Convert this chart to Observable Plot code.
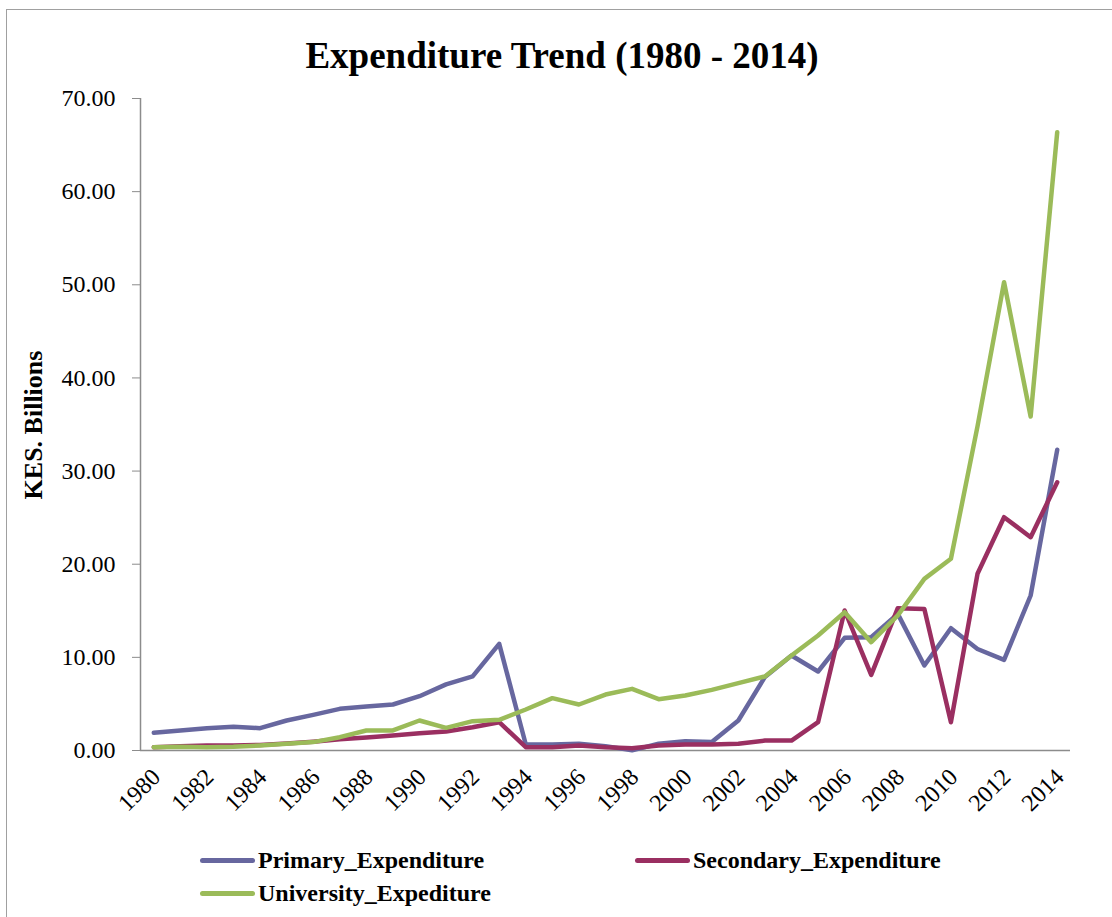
<!DOCTYPE html>
<html>
<head>
<meta charset="utf-8">
<script src="https://cdn.jsdelivr.net/npm/d3@7"></script>
<script src="https://cdn.jsdelivr.net/npm/@observablehq/plot@0.6"></script>
<style>
  html, body { margin: 0; padding: 0; background: #fff; }
  #wrap { position: relative; width: 1112px; height: 917px; overflow: hidden; font-family: "Liberation Serif", "Times New Roman", serif; }
  #wrap svg { position: absolute; left: 0; top: 0; }
  .abs { position: absolute; white-space: nowrap; line-height: 1; }
</style>
</head>
<body>
<div id="wrap"></div>
<script>
const years = d3.range(1980, 2015);
const tickYears = d3.range(1980, 2015, 2);
const yTicks = [0, 10, 20, 30, 40, 50, 60, 70];
const seriesNames = ["Primary_Expenditure", "Secondary_Expenditure", "University_Expediture"];
const seriesColors = ["#67679f", "#9a2f61", "#9bbb59"];

const primary = [1.90, 2.15, 2.40, 2.54, 2.40, 3.22, 3.83, 4.47, 4.72, 4.94, 5.83, 7.10, 7.95, 11.45, 0.64, 0.64, 0.72, 0.47, 0.02, 0.72, 1.00, 0.90, 3.22, 7.90, 10.20, 8.48, 12.10, 12.17, 14.67, 9.13, 13.13, 10.90, 9.73, 16.64, 32.28];
const secondary = [0.36, 0.45, 0.55, 0.55, 0.60, 0.75, 0.95, 1.20, 1.40, 1.60, 1.86, 2.05, 2.50, 3.04, 0.36, 0.36, 0.54, 0.36, 0.25, 0.54, 0.64, 0.64, 0.72, 1.07, 1.07, 3.04, 15.03, 8.12, 15.28, 15.20, 3.04, 18.97, 25.05, 22.90, 28.80];
const university = [0.36, 0.40, 0.36, 0.40, 0.54, 0.72, 0.90, 1.43, 2.15, 2.15, 3.22, 2.43, 3.15, 3.29, 4.40, 5.62, 4.94, 6.01, 6.62, 5.51, 5.90, 6.51, 7.23, 7.95, 10.20, 12.35, 14.85, 11.63, 14.50, 18.43, 20.58, 34.80, 50.28, 35.86, 66.38];

const seriesValues = [primary, secondary, university];
const rows = seriesNames.flatMap((name, s) => years.map((year, i) => ({series: name, year, value: seriesValues[s][i]})));

const wrap = document.getElementById("wrap");

const plot = Plot.plot({
  width: 1112,
  height: 917,
  marginLeft: 140,
  marginRight: 42,
  marginTop: 98,
  marginBottom: 167,
  style: {fontFamily: "Liberation Serif, Times New Roman, serif", background: "transparent", color: "black"},
  x: {domain: [years[0] - 0.5, years[years.length - 1] + 0.5], axis: null},
  y: {domain: [0, 70], axis: null},
  color: {domain: seriesNames, range: seriesColors},
  marks: [
    Plot.ruleX([years[0] - 0.5], {stroke: "#8c8c8c", strokeWidth: 1.5}),
    Plot.ruleY([0], {stroke: "#8c8c8c", strokeWidth: 1.5}),
    Plot.axisY({anchor: "left", ticks: yTicks, tickFormat: d3.format(".2f"), tickSize: 8, tickPadding: 17, fontSize: 24, stroke: "#8c8c8c", fill: "black", label: null}),
    Plot.text(tickYears, {x: d => d, frameAnchor: "bottom", text: d => String(d), rotate: -45, textAnchor: "end", lineAnchor: "bottom", dx: 8, dy: 28, fontSize: 24, fill: "black"}),
    Plot.line(rows, {x: "year", y: "value", z: "series", stroke: "series", strokeWidth: 4.5, strokeLinejoin: "round", strokeLinecap: "round"})
  ]
});
wrap.appendChild(plot);

// Outer chart border
const border = document.createElement("div");
border.style.cssText = "position:absolute;left:6px;top:9px;width:1200px;height:1000px;border:1.5px solid #a0a0a0;box-sizing:border-box;";
wrap.appendChild(border);

// Title
const title = document.createElement("div");
title.className = "abs";
title.textContent = "Expenditure Trend (1980 - 2014)";
title.style.cssText += "left:6px;width:1112px;top:37px;text-align:center;font-size:37px;font-weight:bold;";
wrap.appendChild(title);

// Y label
const ylab = document.createElement("div");
ylab.className = "abs";
ylab.textContent = "KES. Billions";
ylab.style.cssText += "left:34px;top:425px;font-size:26px;font-weight:bold;transform:translate(-50%,-50%) rotate(-90deg);";
wrap.appendChild(ylab);

// Legend
const legendPos = [[200, 860], [635, 860], [200, 893]];
seriesNames.forEach((name, i) => {
  const [lx, ly] = legendPos[i];
  const sw = document.createElement("div");
  sw.style.cssText = `position:absolute;left:${lx}px;top:${ly - 2.5}px;width:55px;height:5px;border-radius:3px;background:${seriesColors[i]};`;
  wrap.appendChild(sw);
  const t = document.createElement("div");
  t.className = "abs";
  t.textContent = name;
  t.style.cssText += `left:${lx + 58}px;top:${ly - 12}px;font-size:24px;font-weight:bold;`;
  wrap.appendChild(t);
});
</script>
</body>
</html>
